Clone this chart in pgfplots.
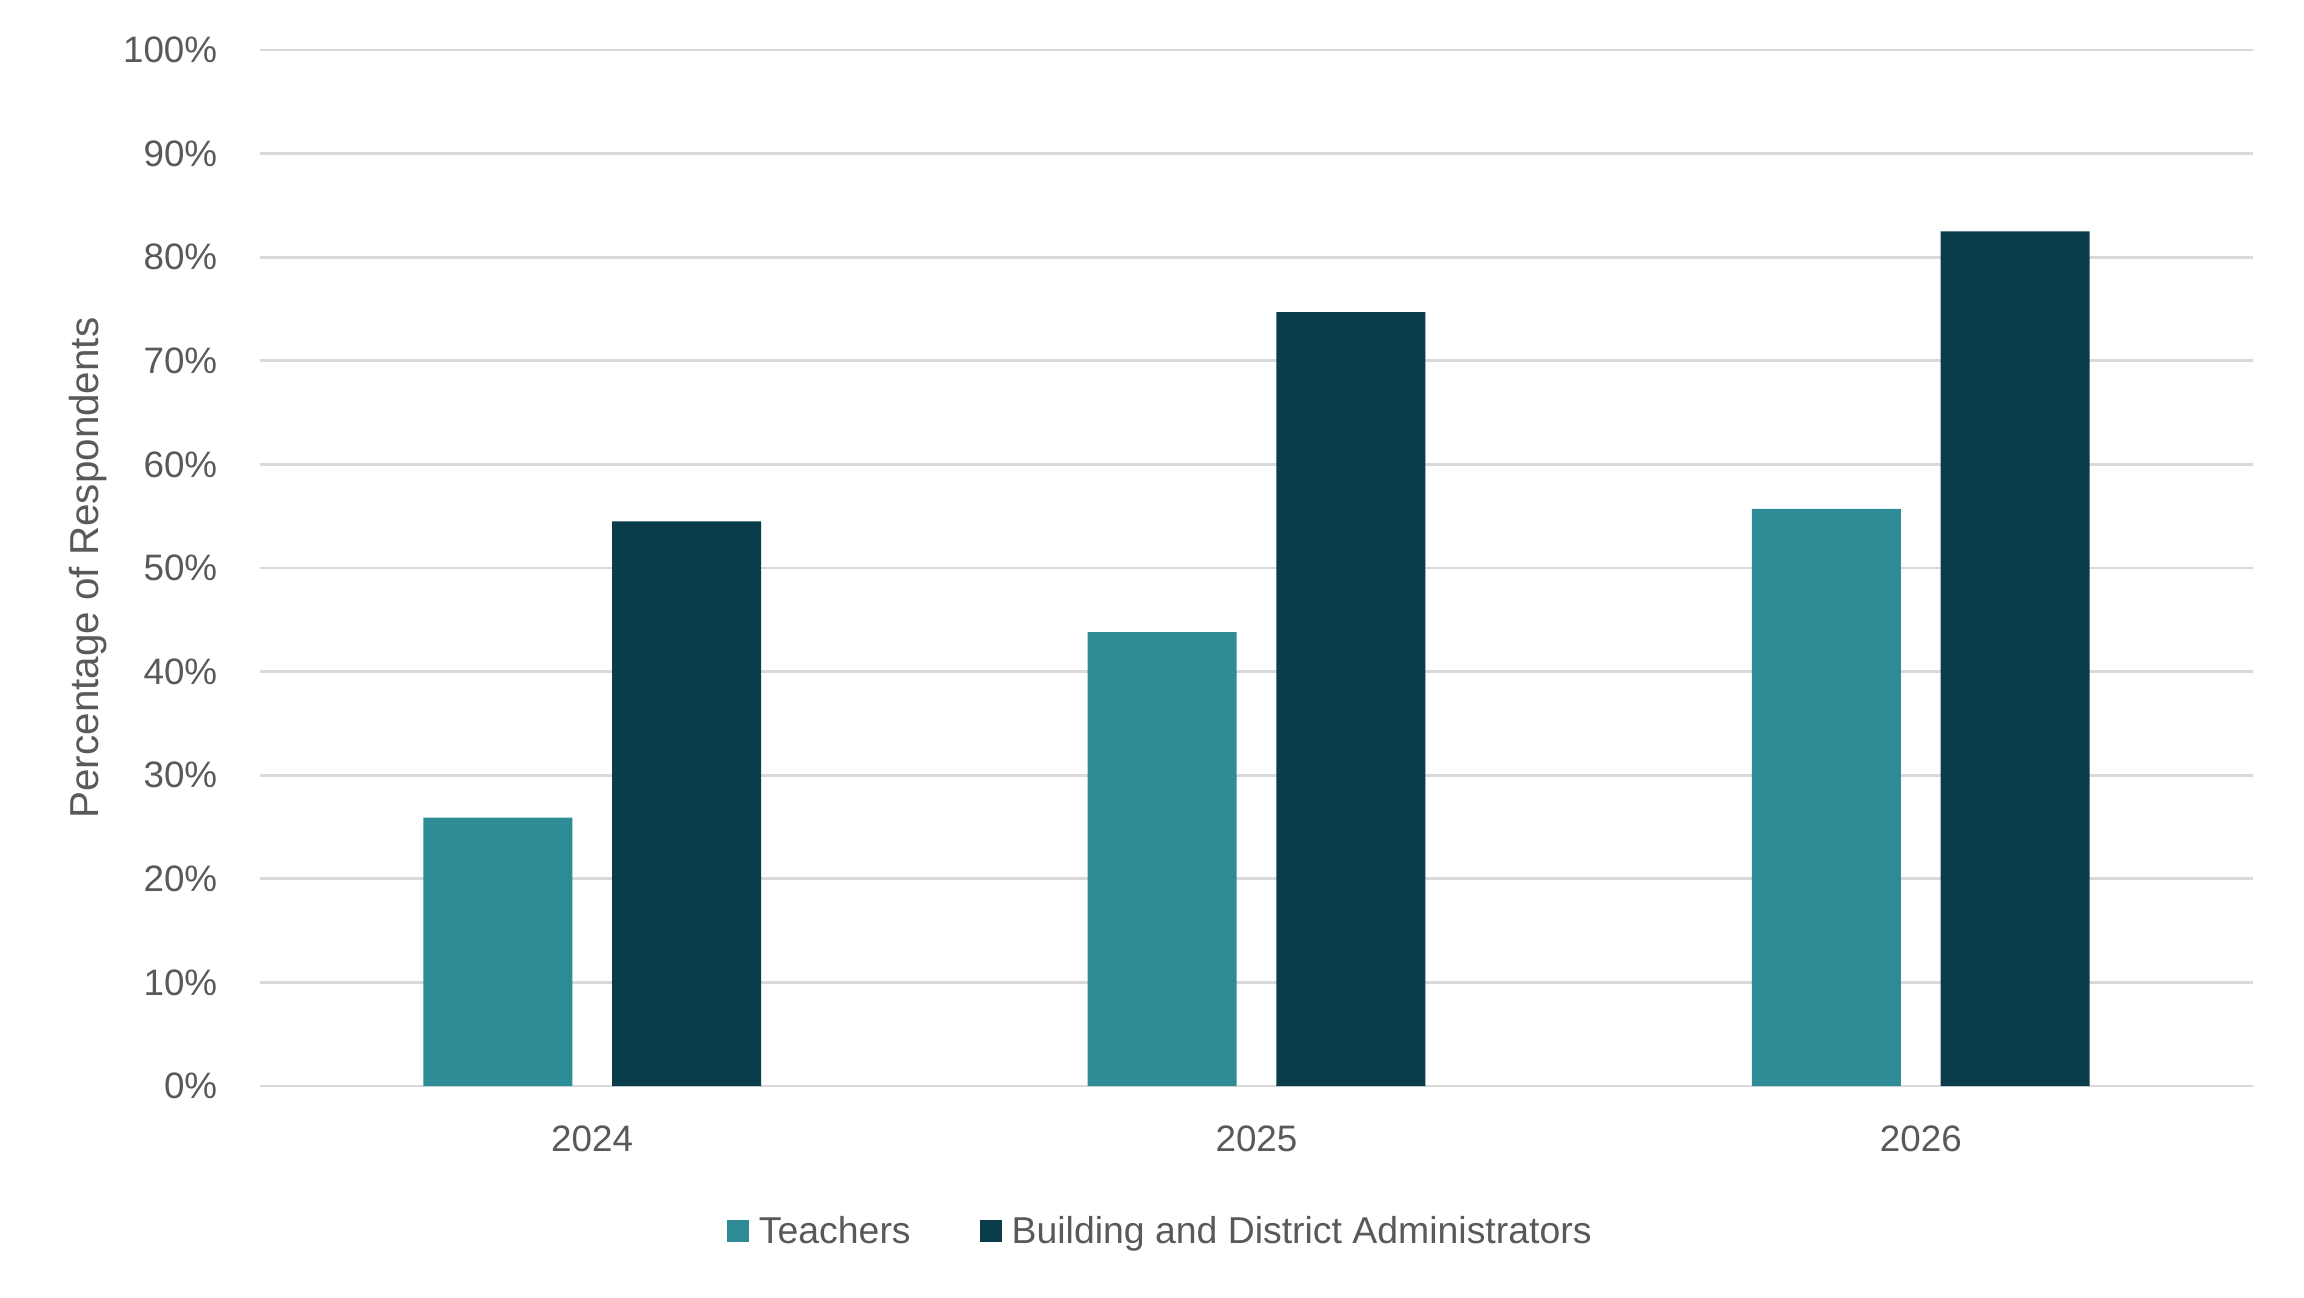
\documentclass[border=0pt]{standalone}
\usepackage{fontspec}
\setmainfont{Liberation Sans}
\usepackage{pgfplots}
\usepackage{pgfplotstable}
\pgfplotsset{compat=1.18}
\definecolor{teach}{HTML}{2E8C96}
\definecolor{admin}{HTML}{0B3C49}
\definecolor{gridc}{HTML}{D9D9D9}
\definecolor{txt}{HTML}{595959}
\pgfplotstableread{
x teachers admins
0 25.9 54.5
1 43.8 74.7
2 55.7 82.5
}\data
\begin{document}
\begin{tikzpicture}
\path[use as bounding box] (-65pt,-52.75pt) rectangle (511pt,271.5pt);
\begin{axis}[
  scale only axis,
  width=498.25pt, height=259pt,
  xmin=-0.5, xmax=2.5, ymin=0, ymax=100,
  clip=false,
  axis line style={draw=none},
  tick style={draw=none},
  major tick length=0pt,
  xtick={0,1,2}, xticklabels={2024,2025,2026},
  ytick={0,10,...,100},
  yticklabels={0\%,10\%,20\%,30\%,40\%,50\%,60\%,70\%,80\%,90\%,100\%},
  ymajorgrids,
  grid style={gridc, line width=0.67pt},
  ticklabel style={font=\fontsize{9.2}{11}\selectfont, text=txt},
  yticklabel style={inner sep=0pt, anchor=east, xshift=-10.5pt},
  xticklabel style={inner sep=0pt, anchor=north, yshift=-9.75pt},
  ylabel={Percentage of Respondents},
  ylabel style={at={(axis description cs:-0.0863,0.5)}, anchor=center, font=\fontsize{10.1}{12}\selectfont, text=txt},
  ybar, bar width=37.25pt,
  legend columns=2,
  legend style={at={(0.4512,-0.142)}, anchor=center, draw=none, fill=none,
    font=\fontsize{9.35}{11}\selectfont, text=txt,
    nodes={inner xsep=0pt},
    /tikz/every odd column/.append style={column sep=2.5pt},
    /tikz/every even column/.append style={column sep=17.25pt}},
]
\addplot[fill=teach, draw=none, bar shift=-23.6pt,
  legend image code/.code={\fill[teach] (0pt,-2.2pt) rectangle (5.5pt,3.3pt);}]
  table[x=x, y=teachers] {\data};
\addplot[fill=admin, draw=none, bar shift=23.6pt,
  legend image code/.code={\fill[admin] (0pt,-2.2pt) rectangle (5.5pt,3.3pt);}]
  table[x=x, y=admins] {\data};
\legend{Teachers, Building and District Administrators}
\end{axis}
\end{tikzpicture}
\end{document}
